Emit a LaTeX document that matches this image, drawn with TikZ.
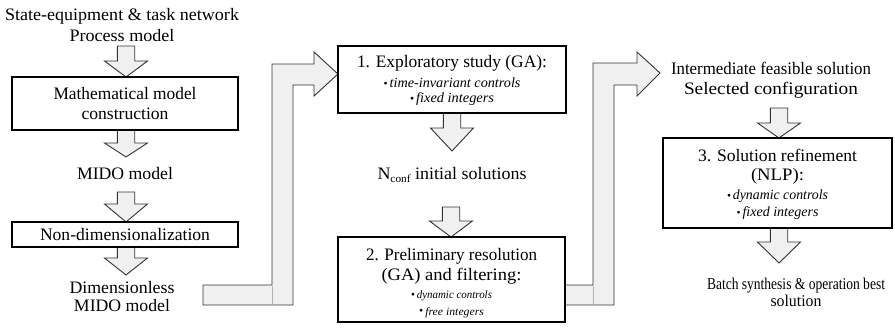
\documentclass[tikz,border=0pt]{standalone}
\usepackage{graphicx}
\usepackage{fontspec}
\setmainfont{Liberation Serif}
\newcommand\mainfs{\fontsize{17.5}{20.5}\selectfont}
\newcommand\itA{\fontsize{14}{15}\selectfont\itshape}
\newcommand\itB{\fontsize{11.3}{14}\selectfont\itshape}
\newcommand\bul{\raisebox{0.4pt}{\upshape\fontsize{11.5}{11}\selectfont\textbullet}\kern2pt}
\newlength\FitLen
\newcommand\fitw[2]{\settowidth\FitLen{#2}\pgfmathsetmacro\FitR{#1/\FitLen}\scalebox{\FitR}[1]{#2}}
\newcommand\BlkDown[4]{%
  \draw[barrow] (#1-8.7,#2) -- (#1+8.7,#2) -- (#1+8.7,#3) -- (#1+21.5,#3) -- (#1,#4)
    -- (#1-21.5,#3) -- (#1-8.7,#3) -- cycle;}
\tikzset{
  stepbox/.style={draw=black, line width=1.8pt, fill=white, inner sep=0pt},
  lbl/.style={align=center, font=\mainfs, inner sep=0pt},
  barrow/.style={draw=black!80, line width=0.9pt, fill=black!6, line join=miter},
  seam/.style={draw=black!30, line width=0.9pt},
}
\begin{document}
\begin{tikzpicture}[x=1pt,y=-1pt]
\useasboundingbox (0,0) rectangle (895,327);

% L-shaped arrows
\draw[barrow] (203,285) -- (272,285) -- (272,64) -- (314,64) -- (314,52) -- (338,74)
  -- (314,96) -- (314,85) -- (293,85) -- (293,305) -- (203,305) -- cycle;
\draw[seam] (272,286) -- (272,304.5);
\draw[barrow] (555,285) -- (593,285) -- (593,63) -- (637,63) -- (637,52) -- (660,73)
  -- (637,96) -- (637,85) -- (614,85) -- (614,305) -- (555,305) -- cycle;
\draw[seam] (593,286) -- (593,304.5);

% block arrows
\BlkDown{126}{46}{61}{77}
\BlkDown{126}{130}{143}{157}
\BlkDown{126}{192}{204}{222}
\BlkDown{126}{247}{258}{275}
\BlkDown{452}{113}{128}{151}
\BlkDown{451}{207}{221}{237}
\BlkDown{779}{108}{123}{138}
\BlkDown{779}{228}{242}{263}

% boxes
\node[stepbox, minimum width=226, minimum height=53] (math) at (125,103.5) {};
\node[stepbox, minimum width=226, minimum height=25] (nondim) at (125,234.5) {};
\node[stepbox, minimum width=228, minimum height=67] (explo) at (452,79.5) {};
\node[stepbox, minimum width=227, minimum height=85] (prelim) at (451.5,279.5) {};
\node[stepbox, minimum width=229, minimum height=90] (refine) at (777.5,183) {};

% texts
\node[lbl] (srcT) at (122,25) {\fitw{234}{State-equipment \& task network}\\\fitw{105}{Process model}};
\node[lbl] (mathT) at (math.center) {\fitw{143}{Mathematical model}\\[-1pt]\fitw{87}{construction}};
\node[lbl] (midoT) at (125,174) {\fitw{96}{MIDO model}};
\node[lbl] (nondimT) at (125,235) {\fitw{170}{Non-dimensionalization}};
\node[lbl] (dlessT) at (122,297) {\fitw{105}{Dimensionless}\\[-2.5pt]\fitw{96}{MIDO model}};

\node[lbl] (exploT) at (452,80.5) {\fitw{190}{1. Exploratory study (GA):}\\[-0.5pt]{\itA\fitw{137}{\bul time-invariant controls}}\\[-5.5pt]{\itA\fitw{84}{\bul fixed integers}}};
\node[lbl] (nconfT) at (452,175) {\fitw{149}{N\raisebox{-0.3ex}{\fontsize{11}{11}\selectfont conf} initial solutions}};
\node[lbl] (prelimT) at (451.5,283) {\fitw{171}{2. Preliminary resolution}\\\fitw{140}{(GA) and filtering:}\\[-2.5pt]{\itB\fitw{81}{\bul dynamic controls}}\\[-4pt]{\itB\fitw{65}{\bul free integers}}};

\node[lbl] (interT) at (771,80) {\fitw{200}{Intermediate feasible solution}\\\fitw{174}{Selected configuration}};
\node[lbl] (refineT) at (777.5,184.5) {\fitw{159}{3. Solution refinement}\\[-1.5pt]\fitw{53}{(NLP):}\\[-1.5pt]{\itA\fitw{101}{\bul dynamic controls}}\\[-3.5pt]{\itA\fitw{82}{\bul fixed integers}}};
\node[lbl, font=\fontsize{16.5}{17}\selectfont] (bestT) at (796,292) {\fitw{178}{Batch synthesis \& operation best}\\\fitw{51}{solution}};
\end{tikzpicture}
\end{document}
